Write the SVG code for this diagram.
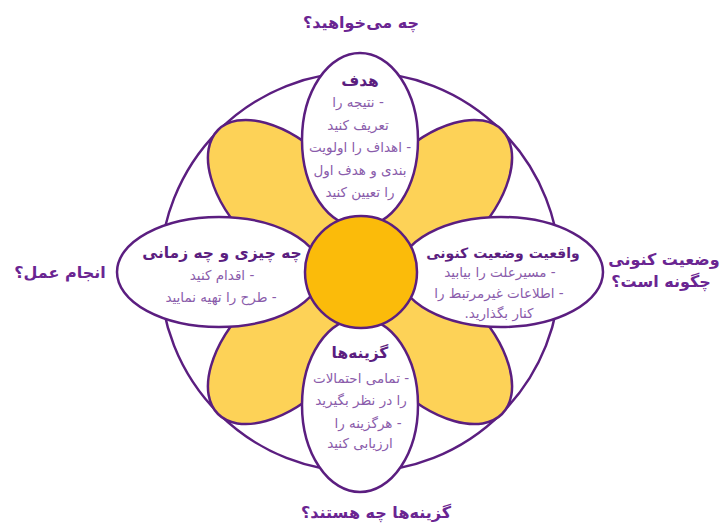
<svg xmlns="http://www.w3.org/2000/svg" width="721" height="525" viewBox="0 0 721 525">
<style>
.ln{stroke:#5b1e80;stroke-width:2.5}
.petal{fill:#fdd257}
.wh{fill:#ffffff}
.core{fill:#fbbb0a}
text{font-family:"DejaVu Sans","Noto Sans",sans-serif;direction:rtl;text-anchor:middle}
.q{font-size:16px;font-weight:bold;fill:#6a2592}
.t{font-size:15.5px;font-weight:bold;fill:#5b1e80}
.b{font-size:13.5px;fill:#8a5cab}
</style>
<rect width="721" height="525" fill="#ffffff"/>
<g id="ring"><circle cx="360" cy="272" r="200" class="ln wh"/></g>
<g id="petals">
<ellipse cx="288" cy="200" rx="99" ry="55" transform="rotate(45 288 200)" class="ln petal"/>
<ellipse cx="432" cy="200" rx="99" ry="55" transform="rotate(-45 432 200)" class="ln petal"/>
<ellipse cx="288" cy="344" rx="99" ry="55" transform="rotate(-45 288 344)" class="ln petal"/>
<ellipse cx="432" cy="344" rx="99" ry="55" transform="rotate(45 432 344)" class="ln petal"/>
</g>
<g id="node-goal">
<ellipse cx="360" cy="140" rx="58" ry="87" class="ln wh"/>
<text x="360" y="86" class="t">هدف</text>
<text x="358" y="107" class="b">- نتیجه را</text>
<text x="358" y="130" class="b">تعریف کنید</text>
<text x="360" y="152" class="b">- اهداف را اولویت</text>
<text x="360" y="175" class="b">بندی و هدف اول</text>
<text x="360" y="197" class="b">را تعیین کنید</text>
</g>
<g id="node-reality">
<ellipse cx="501" cy="272" rx="102" ry="55" class="ln wh"/>
<text x="503" y="258" class="t" style="font-size:14px">واقعیت وضعیت کنونی</text>
<text x="500" y="277" class="b">- مسیرعلت را بیابید</text>
<text x="499" y="298" class="b">- اطلاعات غیرمرتبط را</text>
<text x="499" y="318" class="b">کنار بگذارید.</text>
</g>
<g id="node-action">
<ellipse cx="219" cy="272" rx="102" ry="55" class="ln wh"/>
<text x="222" y="258" class="t">چه چیزی و چه زمانی</text>
<text x="222" y="280" class="b">- اقدام کنید</text>
<text x="221" y="302" class="b">- طرح را تهیه نمایید</text>
</g>
<g id="node-options">
<ellipse cx="360" cy="405" rx="58" ry="87" class="ln wh"/>
<text x="360" y="358" class="t">گزینه‌ها</text>
<text x="361" y="383" class="b">- تمامی احتمالات</text>
<text x="361" y="405" class="b">را در نظر بگیرید</text>
<text x="368" y="428" class="b">- هرگزینه را</text>
<text x="360" y="448" class="b">ارزیابی کنید</text>
</g>
<g id="node-center"><circle cx="361" cy="272" r="56" class="ln core"/></g>
<g id="labels">
<text x="361" y="28" class="q">چه می‌خواهید؟</text>
<text x="664" y="265" class="q">وضعیت کنونی</text>
<text x="661" y="287" class="q">چگونه است؟</text>
<text x="60" y="278" class="q">انجام عمل؟</text>
<text x="376" y="518" class="q">گزینه‌ها چه هستند؟</text>
</g>
</svg>
